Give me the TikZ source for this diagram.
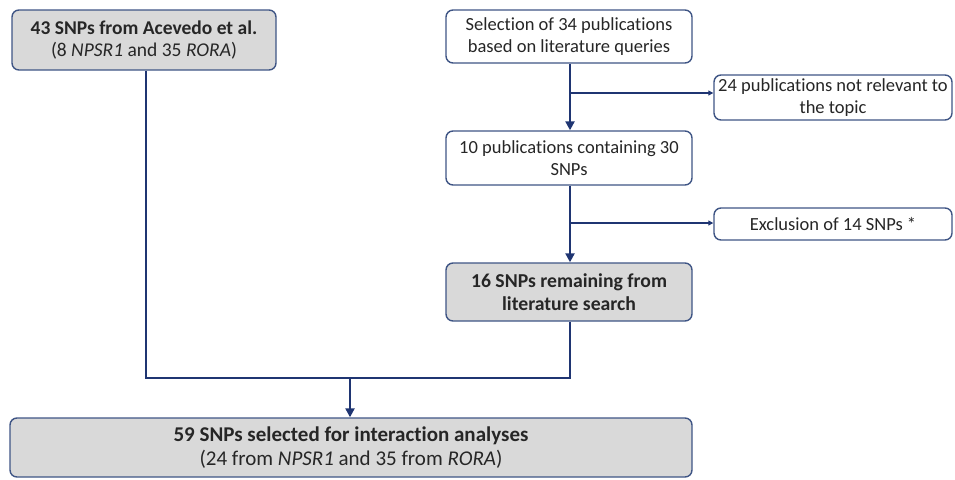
\documentclass[tikz,border=0pt]{standalone}
\usepackage{fontspec}
\setmainfont[Ligatures={NoCommon}]{Carlito}
\usetikzlibrary{arrows.meta}
\definecolor{boxline}{HTML}{3F5585}
\definecolor{conn}{HTML}{1F3572}
\definecolor{boxfill}{HTML}{D9D9D9}
\definecolor{txt}{HTML}{262626}
\tikzset{
  box/.style={draw=boxline, line width=1.4pt, rounded corners=7pt, align=center, inner sep=0pt,
    text=txt, font=\fontsize{18.5}{22}\selectfont},
  graybox/.style={box, fill=boxfill},
  whitebox/.style={box, fill=white},
  afont/.style={font=\fontsize{19.5}{22}\selectfont},
  gfont/.style={font=\fontsize{21}{24}\selectfont},
  midfont/.style={font=\fontsize{19.7}{22.5}\selectfont},
  mainline/.style={draw=conn, line width=2.6pt},
  mainarrow/.style={mainline, -{Triangle[length=9pt,width=9pt]}},
  sidearrow/.style={draw=conn, line width=1.6pt, -{Triangle[length=5pt,width=5pt]}},
}
\begin{document}
\begin{tikzpicture}[x=1pt,y=-1pt]
\useasboundingbox (0,0) rectangle (955,479);
\node[graybox, afont, minimum width=264pt, minimum height=60pt] (a) at (144,40)
  {\textbf{43 SNPs from Acevedo et al.}\\(8 \textit{NPSR1} and 35 \textit{RORA})};
\node[whitebox, minimum width=246pt, minimum height=53pt] (b) at (569,36.5)
  {Selection of 34 publications\\based on literature queries};
\node[whitebox, minimum width=238pt, minimum height=45pt] (c) at (833,97.5)
  {24 publications not relevant to\\the topic};
\node[whitebox, minimum width=246pt, minimum height=54pt] (d) at (569,158)
  {10 publications containing 30\\SNPs};
\node[whitebox, minimum width=238pt, minimum height=32pt] (e) at (833,224)
  {Exclusion of 14 SNPs *};
\node[graybox, midfont, minimum width=246pt, minimum height=58pt] (f) at (569,292)
  {\textbf{16 SNPs remaining from}\\\textbf{literature search}};
\node[graybox, gfont, minimum width=682pt, minimum height=59pt] (g) at (351,447.5)
  {\textbf{59 SNPs selected for interaction analyses}\\(24 from \textit{NPSR1} and 35 from \textit{RORA})};

\coordinate (bd) at (570,93);
\coordinate (de) at (570,223);
\coordinate (j) at (350,378);

\draw[mainarrow] (b.south -| bd) -- (d.north -| bd);
\draw[sidearrow] (bd) -- (c.west |- bd);
\draw[mainarrow] (d.south -| de) -- (f.north -| de);
\draw[sidearrow] (de) -- (e.west |- de);
\draw[mainline, line join=miter] (a.south -| 146,0) |- (j) -| (f.south -| 570,0);
\draw[mainarrow] (j) -- (g.north -| j);
\end{tikzpicture}
\end{document}
